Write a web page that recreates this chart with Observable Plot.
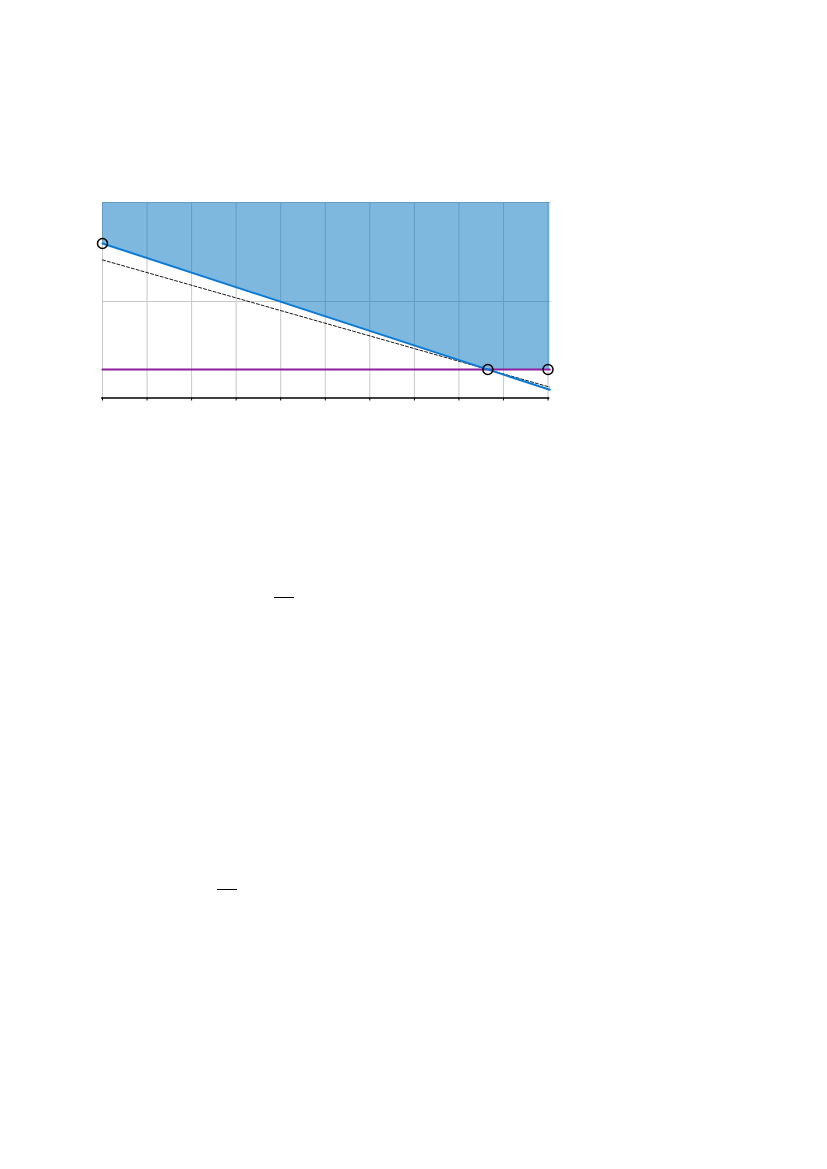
<!DOCTYPE html>
<html>
<head>
<meta charset="utf-8">
<script src="https://cdn.jsdelivr.net/npm/d3@7"></script>
<script src="https://cdn.jsdelivr.net/npm/@observablehq/plot@0.6"></script>
<style>
  html, body { margin: 0; padding: 0; background: #fff; }
  #chart svg { display: block; }
  .bar { position: absolute; height: 1.3px; background: #000; }
</style>
</head>
<body>
<div id="chart"></div>
<div class="bar" style="left:274px; top:597px; width:20px;"></div>
<div class="bar" style="left:217px; top:889px; width:20px;"></div>
<script>
// Feasible region (shaded): lower boundary along x
const regionX = [0, 8.65, 10.04];
const regionLow = [1.586, 0.313, 0.313];
const regionTop = 2;

// Blue constraint line
const blueX = [0, 10.04];
const blueY = [1.586, 0.108];

// Purple constraint line
const purpleX = [0, 10.04];
const purpleY = [0.313, 0.313];

// Dashed (objective) line
const dashX = [0, 10.04];
const dashY = [1.42, 0.135];

// Vertices (circles)
const vertX = [0, 8.65, 10];
const vertY = [1.586, 0.313, 0.313];

// Ticks / grid values
const xTicks = [0, 1, 2, 3, 4, 5, 6, 7, 8, 9, 10];
const yGrid = [1, 2];

const region = regionX.map((x, i) => ({x, lo: regionLow[i], hi: regionTop}));
const blue = blueX.map((x, i) => ({x, y: blueY[i]}));
const purple = purpleX.map((x, i) => ({x, y: purpleY[i]}));
const dash = dashX.map((x, i) => ({x, y: dashY[i]}));
const verts = vertX.map((x, i) => ({x, y: vertY[i]}));

const chart = Plot.plot({
  width: 827,
  height: 430,
  marginTop: 202,
  marginBottom: 32.5,
  marginLeft: 102,
  marginRight: 277.7,
  x: {domain: [0, 10.04], axis: null, label: null},
  y: {domain: [0.025, 2], axis: null, label: null},
  style: {background: "transparent"},
  marks: [
    Plot.ruleX(xTicks, {stroke: "#c8c8c8", strokeWidth: 1}),
    Plot.ruleY(yGrid, {x1: 0, x2: 10.07, stroke: "#c8c8c8", strokeWidth: 1}),
    Plot.areaY(region, {x: "x", y1: "lo", y2: "hi", fill: "#0072BD", fillOpacity: 0.5}),
    Plot.line(dash, {x: "x", y: "y", stroke: "#000", strokeWidth: 0.9, strokeDasharray: "3,2"}),
    Plot.line(purple, {x: "x", y: "y", stroke: "#901f9f", strokeWidth: 2.2}),
    Plot.line(blue, {x: "x", y: "y", stroke: "#0a7bd4", strokeWidth: 2}),
    Plot.dot(verts, {x: "x", y: "y", r: 5, stroke: "#000", strokeWidth: 1.5, fill: "none"}),
    Plot.axisX(xTicks, {tickSize: 3, tickFormat: () => "", label: null, stroke: "#000", strokeWidth: 1}),
    Plot.ruleY([0.025], {x1: -0.02, x2: 10.04, stroke: "#000", strokeWidth: 1.5})
  ]
});
document.getElementById("chart").appendChild(chart);
</script>
</body>
</html>
